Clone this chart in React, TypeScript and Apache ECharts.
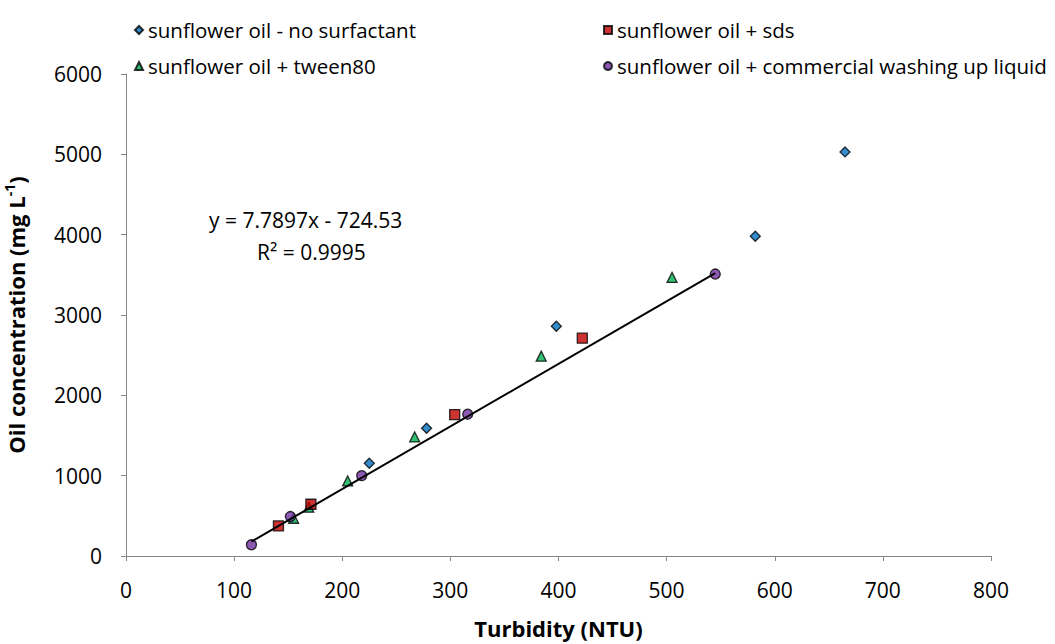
import React, { useEffect, useRef } from "react";
import * as echarts from "echarts";

// Turbidity (NTU) vs oil concentration (mg/L) for each emulsion
const noSurfactant: [number, number][] = [
  [225, 1155],
  [278, 1590],
  [398, 2860],
  [582, 3980],
  [665, 5030],
];
const sds: [number, number][] = [
  [141, 374],
  [171, 644],
  [304, 1760],
  [422, 2711],
];
const tween80: [number, number][] = [
  [155, 470],
  [169, 608],
  [205, 934],
  [267, 1482],
  [384, 2488],
  [505, 3468],
];
const washingUp: [number, number][] = [
  [116, 140],
  [152, 491],
  [218, 1000],
  [316, 1765],
  [545, 3510],
];

// Linear trendline fitted to the washing-up liquid series
const slope = 7.7897;
const intercept = -724.53;
const rSquared = 0.9995;
const trendFrom = 116;
const trendTo = 545;

const seriesNames = [
  "sunflower oil - no surfactant",
  "sunflower oil + sds",
  "sunflower oil + tween80",
  "sunflower oil + commercial washing up liquid",
];

const FONT = "'Open Sans', Lato, sans-serif";

export default function App() {
  const ref = useRef<HTMLDivElement>(null);

  useEffect(() => {
    if (!ref.current) return;
    const chart = echarts.init(ref.current, undefined, { renderer: "svg" });

    const trend = [trendFrom, trendTo].map((x) => [x, slope * x + intercept]);
    const eqText = `y = ${slope}x - ${Math.abs(intercept)}`;

    const axisLine = { lineStyle: { color: "#868686", width: 1 } };
    const markerBorder = { borderColor: "#000", borderWidth: 1.3 };
    const legendCommon = {
      orient: "vertical" as const,
      top: 12,
      itemGap: 10,
      itemWidth: 8,
      itemHeight: 8,
      textStyle: {
        fontFamily: FONT,
        fontSize: 20.5,
        color: "#000",
        lineHeight: 26,
      },
    };

    chart.setOption({
      animation: false,
      backgroundColor: "#fff",
      textStyle: { fontFamily: FONT },
      grid: {
        left: 126,
        right: 64,
        top: 74,
        bottom: 88,
        containLabel: false,
        outerBoundsMode: "none",
      },
      legend: [
        { ...legendCommon, left: 129, data: [seriesNames[0], seriesNames[2]] },
        { ...legendCommon, left: 598, data: [seriesNames[1], seriesNames[3]] },
      ],
      xAxis: {
        type: "value",
        min: 0,
        max: 800,
        interval: 100,
        splitLine: { show: false },
        axisLine: { ...axisLine, onZero: false },
        axisTick: { show: true, length: 5, lineStyle: { color: "#868686" } },
        axisLabel: { fontSize: 21, color: "#000", fontFamily: FONT, margin: 23 },
        name: "Turbidity (NTU)",
        nameLocation: "middle",
        nameGap: 61,
        nameTextStyle: { fontSize: 22, fontWeight: "bold", color: "#000", fontFamily: FONT },
      },
      yAxis: {
        type: "value",
        min: 0,
        max: 6000,
        interval: 1000,
        splitLine: { show: false },
        axisLine: { ...axisLine, show: true, onZero: false },
        axisTick: { show: true, length: 5, lineStyle: { color: "#868686" } },
        axisLabel: {
          fontSize: 21,
          color: "#000",
          fontFamily: FONT,
          margin: 24,
          formatter: (v: number) => String(v),
        },
        name: "Oil concentration (mg L{sup|-1})",
        nameLocation: "middle",
        nameGap: 96,
        nameTextStyle: {
          fontSize: 22,
          fontWeight: "bold",
          color: "#000",
          fontFamily: FONT,
          lineHeight: 28,
          rich: {
            sup: {
              fontSize: 14,
              fontWeight: "bold",
              color: "#000",
              fontFamily: FONT,
              verticalAlign: "top",
              lineHeight: 28,
            },
          },
        },
      },
      series: [
        {
          name: seriesNames[0],
          type: "scatter",
          symbol: "diamond",
          symbolSize: 10,
          z: 3,
          itemStyle: { color: "#0070c0", ...markerBorder },
          data: noSurfactant,
        },
        {
          name: seriesNames[1],
          type: "scatter",
          symbol: "rect",
          symbolSize: 10,
          z: 3,
          itemStyle: { color: "#c00000", ...markerBorder },
          data: sds,
        },
        {
          name: seriesNames[2],
          type: "scatter",
          symbol: "triangle",
          symbolSize: 10,
          z: 2,
          itemStyle: { color: "#00b050", ...markerBorder },
          data: tween80,
        },
        {
          name: seriesNames[3],
          type: "scatter",
          symbol: "circle",
          symbolSize: 10,
          z: 3,
          itemStyle: { color: "#7030a0", ...markerBorder },
          data: washingUp,
        },
        {
          name: "trend",
          type: "line",
          data: trend,
          symbol: "none",
          z: 4,
          silent: true,
          lineStyle: { color: "#000", width: 2 },
        },
      ],
      graphic: [
        {
          type: "text",
          left: 209,
          top: 209,
          style: { text: eqText, fontSize: 21, fontFamily: FONT, fill: "#000" },
        },
        {
          type: "text",
          left: 257,
          top: 241,
          style: { text: `R² = ${rSquared}`, fontSize: 21, fontFamily: FONT, fill: "#000" },
        },
      ],
    });

    return () => chart.dispose();
  }, []);

  return (
    <div
      ref={ref}
      style={{ position: "fixed", left: 0, top: 0, width: 1055, height: 644, background: "#fff" }}
    />
  );
}
